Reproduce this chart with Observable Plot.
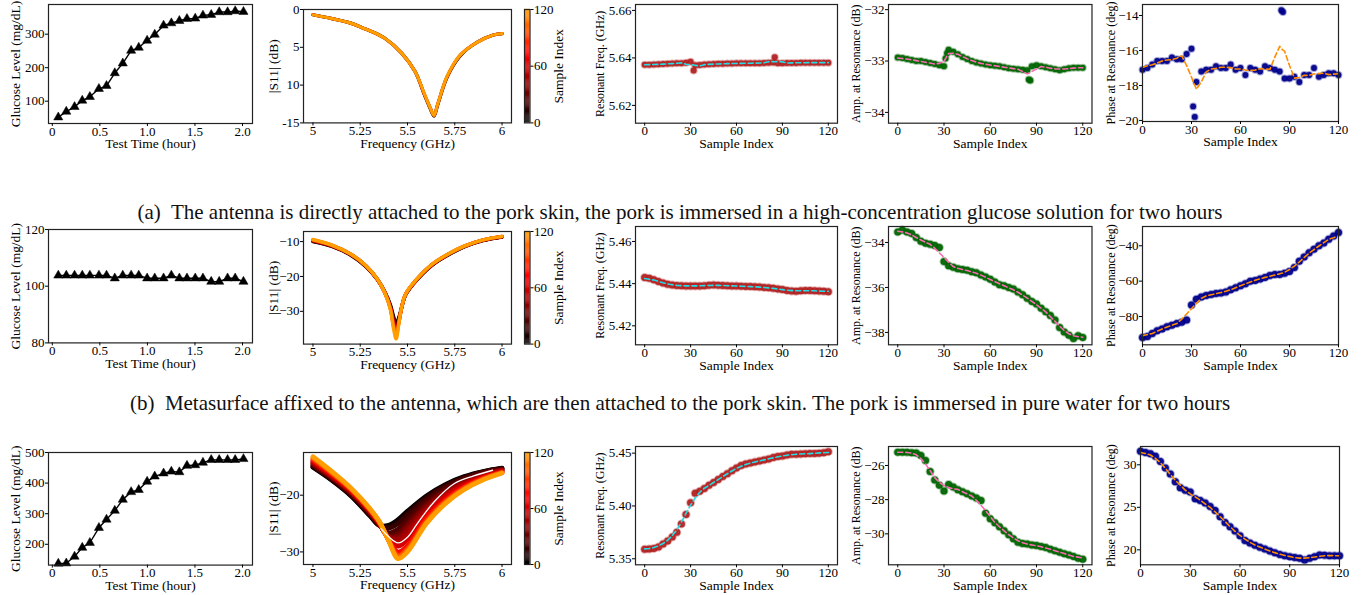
<!DOCTYPE html>
<html><head><meta charset="utf-8">
<script src="https://cdn.jsdelivr.net/npm/d3@7"></script>
<script src="https://cdn.jsdelivr.net/npm/@observablehq/plot@0.6"></script>
<style>
body{margin:0;background:#fff;}
#fig{position:relative;width:1364px;height:595px;overflow:hidden;font-family:"Liberation Serif","Times New Roman",serif;background:#fff;}
.cap{position:absolute;left:0;width:1360px;text-align:center;font-size:21px;line-height:24px;color:#111;white-space:pre;}
</style></head><body><div id="fig"></div>
<script>
// ---------------- data ----------------
const testTime = [0.063,0.147,0.234,0.315,0.395,0.49,0.57,0.657,0.741,0.829,0.909,0.997,1.077,1.17,1.252,1.336,1.416,1.503,1.584,1.671,1.755,1.843,1.923,2.01];
const glucoseA = [52,69,83,102,113,137,146,184,213,251,260,281,299,326,333,340,346,347,356,358,366,366,369,367];
const glucoseB = [103.8,103.8,103.8,103.8,103.8,103.8,103.8,102.8,103.8,103.8,103.8,102.8,102.8,102.8,103.8,102.8,102.8,102.8,102.8,101.6,101.6,102.8,102.8,101.6];
const glucoseC = [137,138,160,189,205,254,281,310,346,371,378,405,422,432,438,436,457,459,467,476,476,476,476,479];

const sampleIdx = [0,3,6,9,12,15,18,21,24,27,30,33,36,39,42,45,48,51,54,57,60,63,66,69,72,75,78,81,84,87,90,93,96,99,102,105,108,111,114,117,120];

// (a) direct attachment, glucose solution
const freqA = [5.6371,5.6371,5.6372,5.6373,5.6374,5.6375,5.6376,5.6377,5.6378,5.6380,5.6384,5.6369,5.6370,5.6372,5.6373,5.6374,5.6375,5.6375,5.6376,5.6376,5.6377,5.6377,5.6377,5.6378,5.6378,5.6378,5.6379,5.6380,5.6381,5.6378,5.6378,5.6379,5.6379,5.6379,5.6380,5.6380,5.6380,5.6380,5.6380,5.6380,5.6380];
const freqAOutIdx = [32,85];
const freqAOut = [5.6347,5.6403];
const ampA = [-32.93,-32.94,-32.96,-32.98,-33.0,-33.0,-33.02,-33.04,-33.06,-33.08,-33.1,-32.78,-32.82,-32.87,-32.92,-32.96,-33.0,-33.03,-33.05,-33.07,-33.08,-33.09,-33.1,-33.12,-33.14,-33.15,-33.16,-33.17,-33.18,-33.1,-33.08,-33.1,-33.12,-33.14,-33.16,-33.18,-33.16,-33.14,-33.13,-33.13,-33.13];
const ampAOutIdx = [31,32,85,86];
const ampAOut = [-32.95,-32.85,-33.36,-33.38];
const phaseA = [-17.1,-17.0,-16.8,-16.6,-16.6,-16.6,-16.4,-16.5,-16.5,-16.2,-15.9,-17.8,-17.2,-17.1,-17.1,-16.9,-17.0,-17.0,-16.8,-17.1,-17.0,-17.4,-17.0,-17.1,-17.2,-16.9,-17.0,-17.1,-17.2,-17.6,-17.6,-17.5,-17.8,-17.4,-17.4,-17.0,-17.5,-17.4,-17.3,-17.3,-17.4];
const phaseAOutIdx = [31,32,85,86];
const phaseAOut = [-19.2,-19.8,-13.7,-13.8];

// (b) metasurface, pure water
const freqB = [5.4429,5.4425,5.4418,5.4410,5.4403,5.4397,5.4393,5.4391,5.4390,5.4389,5.4389,5.4389,5.4389,5.4390,5.4392,5.4394,5.4392,5.4391,5.4390,5.4389,5.4389,5.4388,5.4387,5.4386,5.4385,5.4384,5.4382,5.4380,5.4378,5.4375,5.4372,5.4368,5.4365,5.4364,5.4366,5.4368,5.4367,5.4366,5.4365,5.4364,5.4362];
const ampB = [-33.53,-33.45,-33.53,-33.6,-33.78,-33.95,-34.03,-34.08,-34.13,-34.22,-34.85,-35.04,-35.1,-35.17,-35.2,-35.23,-35.3,-35.35,-35.45,-35.53,-35.63,-35.76,-35.88,-35.93,-36.0,-36.07,-36.2,-36.33,-36.48,-36.62,-36.74,-36.92,-37.08,-37.25,-37.45,-37.78,-37.98,-38.12,-38.27,-38.15,-38.22];
const phaseB = [-91.9,-91.3,-89.6,-88.0,-87.0,-85.8,-84.9,-84.0,-83.2,-82.0,-73.5,-70.2,-69.0,-68.1,-67.6,-67.0,-66.7,-66.2,-64.8,-63.8,-62.6,-61.5,-60.0,-59.6,-58.8,-57.9,-56.8,-56.3,-56.2,-55.6,-54.5,-52.3,-48.7,-46.3,-44.0,-41.9,-40.0,-38.5,-36.3,-34.5,-32.5];

// (c) metasurface, glucose solution
const freqC = [5.3590,5.3592,5.3598,5.3612,5.3640,5.3669,5.3705,5.3750,5.3830,5.3920,5.4030,5.4120,5.4140,5.4165,5.4195,5.4221,5.4250,5.4278,5.4305,5.4333,5.4360,5.4382,5.4397,5.4407,5.4417,5.4426,5.4436,5.4445,5.4458,5.4468,5.4473,5.4482,5.4489,5.4490,5.4492,5.4495,5.4496,5.4497,5.4500,5.4505,5.4514];
const ampC = [-25.22,-25.22,-25.23,-25.25,-25.27,-25.41,-25.71,-26.35,-26.85,-27.15,-27.5,-27.11,-27.26,-27.42,-27.54,-27.66,-27.78,-27.9,-28.05,-28.8,-29.12,-29.35,-29.59,-29.82,-30.05,-30.29,-30.49,-30.57,-30.6,-30.65,-30.68,-30.74,-30.8,-30.9,-30.99,-31.07,-31.16,-31.23,-31.32,-31.42,-31.48];
const phaseC = [31.59,31.45,31.3,31.0,30.4,29.63,28.92,28.0,27.3,27.0,26.8,26.0,25.8,25.5,25.1,24.61,23.9,23.2,22.7,22.2,21.67,21.1,20.8,20.55,20.3,20.1,19.85,19.65,19.45,19.3,19.2,19.1,19.0,18.8,19.0,19.2,19.4,19.35,19.3,19.3,19.31];

// |S11| spectra (dB), a few sample indices per experiment
const s11FreqA = [5.0,5.1,5.2,5.26,5.3,5.38,5.47,5.54,5.59,5.62,5.64,5.66,5.71,5.78,5.87,5.95,6.0];
const s11SamplesA = [0,60,120];
const s11CurvesA = [
  [-0.7,-1.2,-1.8,-2.4,-2.8,-3.8,-5.8,-8.2,-11.3,-13.1,-14.1,-12.6,-8.9,-6.1,-4.3,-3.4,-3.2],
  [-0.7,-1.2,-1.8,-2.4,-2.8,-3.8,-5.8,-8.2,-11.3,-13.0,-14.0,-12.5,-8.9,-6.0,-4.3,-3.4,-3.2],
  [-0.7,-1.2,-1.8,-2.4,-2.8,-3.8,-5.8,-8.2,-11.2,-13.0,-14.0,-12.5,-8.8,-6.0,-4.3,-3.4,-3.2]
];
const s11FreqB = [5.0,5.1,5.2,5.28,5.34,5.38,5.41,5.425,5.44,5.455,5.47,5.49,5.55,5.63,5.72,5.8,5.9,6.0];
const s11SamplesB = [0,20,40,60,80,100,120];
const s11CurvesB = [
  [-10.0,-11.4,-13.9,-17.2,-20.9,-24.4,-28.2,-31.2,-33.4,-31.6,-28.6,-25.3,-21.0,-16.8,-13.7,-11.5,-9.7,-8.7],
  [-9.9,-11.3,-13.8,-17.1,-20.8,-24.5,-28.5,-31.8,-34.0,-32.0,-28.7,-25.2,-20.9,-16.7,-13.6,-11.4,-9.6,-8.6],
  [-9.8,-11.2,-13.7,-17.0,-20.8,-24.5,-28.8,-32.6,-35.0,-32.5,-28.7,-25.2,-20.8,-16.6,-13.5,-11.4,-9.6,-8.6],
  [-9.7,-11.2,-13.7,-17.0,-20.7,-24.6,-29.0,-33.0,-35.4,-32.7,-28.7,-25.1,-20.8,-16.6,-13.5,-11.4,-9.6,-8.6],
  [-9.6,-11.1,-13.6,-16.9,-20.7,-24.6,-29.2,-33.5,-36.1,-32.9,-28.7,-25.1,-20.8,-16.6,-13.5,-11.3,-9.5,-8.5],
  [-9.5,-11.0,-13.6,-16.9,-20.7,-24.6,-29.4,-34.0,-37.0,-33.1,-28.6,-25.0,-20.7,-16.5,-13.4,-11.3,-9.5,-8.5],
  [-9.4,-11.0,-13.6,-16.9,-20.7,-24.7,-29.6,-34.6,-37.9,-33.3,-28.6,-25.0,-20.7,-16.5,-13.4,-11.3,-9.5,-8.5]
];
const s11FreqC = [5.0,5.1,5.2,5.3,5.35,5.4,5.45,5.5,5.6,5.7,5.8,5.9,6.0];
const s11SamplesC = [0,7,15,22,30,37,45,52,60,75,90,105,120];
const s11CurvesC = [
  [-15.1,-17.4,-20.1,-23.6,-25.3,-25.3,-24.3,-22.8,-20.1,-18.1,-16.7,-15.8,-15.2],
  [-15.0,-17.3,-20.0,-23.5,-25.3,-25.5,-24.6,-23.0,-20.3,-18.25,-16.8,-15.85,-15.25],
  [-14.9,-17.2,-19.9,-23.4,-25.3,-25.8,-25.0,-23.4,-20.5,-18.4,-16.9,-15.9,-15.3],
  [-14.75,-17.05,-19.75,-23.25,-25.2,-26.6,-26.0,-24.2,-21.0,-18.7,-17.1,-16.0,-15.4],
  [-14.6,-16.9,-19.6,-23.1,-25.1,-27.2,-26.8,-25.0,-21.6,-19.1,-17.4,-16.2,-15.5],
  [-14.45,-16.8,-19.5,-23.0,-25.05,-27.3,-27.3,-25.6,-22.0,-19.4,-17.6,-16.35,-15.55],
  [-14.3,-16.7,-19.4,-22.9,-25.0,-27.4,-27.7,-26.2,-22.4,-19.7,-17.8,-16.5,-15.6],
  [-14.15,-16.6,-19.3,-22.8,-24.95,-27.55,-28.4,-27.0,-22.85,-20.0,-18.0,-16.65,-15.7],
  [-14.0,-16.5,-19.2,-22.7,-24.9,-27.7,-29.0,-27.8,-23.3,-20.3,-18.2,-16.8,-15.8],
  [-13.8,-16.3,-19.0,-22.6,-24.8,-27.8,-30.0,-28.9,-24.0,-20.8,-18.5,-17.0,-15.9],
  [-13.6,-16.1,-18.9,-22.5,-24.7,-27.9,-30.6,-29.4,-24.5,-21.1,-18.7,-17.1,-16.0],
  [-13.4,-16.0,-18.8,-22.4,-24.6,-28.0,-30.9,-29.7,-24.8,-21.3,-18.9,-17.2,-16.05],
  [-13.2,-15.8,-18.7,-22.3,-24.6,-28.0,-31.2,-30.0,-25.0,-21.5,-19.0,-17.3,-16.1]
];
const s11WhiteFreqC = [5.36,5.40,5.45,5.50,5.55,5.64,5.75,5.85,5.95];
const s11WhiteC = [-25.9,-27.3,-28.4,-27.4,-25.1,-21.2,-17.9,-16.6,-15.6];

const captionA = "(a)  The antenna is directly attached to the pork skin, the pork is immersed in a high-concentration glucose solution for two hours";
const captionB = "(b)  Metasurface affixed to the antenna, which are then attached to the pork skin. The pork is immersed in pure water for two hours";

// ---------------- drawing ----------------
const fig = document.getElementById("fig");
const FONT = "Liberation Serif, Times New Roman, serif";
const cmap = d3.scaleLinear().domain([0, 73, 120]).range(["#000000", "#ff0000", "#ff9e00"]);
const minus = d => (d < 0 ? "\u2212" : "") + Math.abs(d);
const fix = n => d => (d < 0 ? "\u2212" : "") + Math.abs(d).toFixed(n);

function panel(o) {
  const mL = 80, mR = 40, mT = 8, mB = 34;
  const w = o.fx1 - o.fx0, h = o.fy1 - o.fy0;
  const chart = Plot.plot({
    width: w + mL + mR, height: h + mT + mB,
    marginLeft: mL, marginRight: mR, marginTop: mT, marginBottom: mB,
    style: {fontFamily: FONT, fontSize: "13px", background: "transparent", color: "#000", overflow: "visible"},
    x: {domain: o.x},
    y: {domain: o.y},
    marks: [
      ...o.marks,
      Plot.frame({stroke: "#222", strokeWidth: 1.2}),
      Plot.axisX({ticks: o.xticks, tickFormat: o.xfmt, tickSize: 3, tickPadding: 0, label: null, fontSize: 13}),
      Plot.axisY({ticks: o.yticks, tickFormat: o.yfmt, tickSize: 3, tickPadding: 1, label: null, fontSize: 13}),
      Plot.text([o.xlabel], {text: d => d, frameAnchor: "bottom", dy: 20.5, fontSize: 13.5, lineAnchor: "middle", textAnchor: "middle"}),
      Plot.text([o.ylabel], {text: d => d, frameAnchor: "left", dx: -o.yoff, rotate: -90, fontSize: o.ysize || 13.5, lineAnchor: "middle", textAnchor: "middle"})
    ]
  });
  chart.style.position = "absolute";
  chart.style.left = (o.fx0 - mL) + "px";
  chart.style.top = (o.fy0 - mT) + "px";
  fig.appendChild(chart);
}

function colorbar(fx0, fy0, fx1, fy1) {
  const mL = 5, mR = 50, mT = 8, mB = 8;
  const cells = d3.range(0, 120, 1);
  const chart = Plot.plot({
    width: fx1 - fx0 + mL + mR, height: fy1 - fy0 + mT + mB,
    marginLeft: mL, marginRight: mR, marginTop: mT, marginBottom: mB,
    style: {fontFamily: FONT, fontSize: "13px", background: "transparent", color: "#000", overflow: "visible"},
    x: {domain: [0, 1], axis: null},
    y: {domain: [0, 120]},
    marks: [
      Plot.rect(cells, {x1: 0, x2: 1, y1: d => d, y2: d => d + 1.2, fill: d => cmap(d + 0.5)}),
      Plot.frame({stroke: "#222", strokeWidth: 1.2}),
      Plot.axisY({anchor: "right", ticks: [0, 60, 120], tickSize: 3, tickPadding: 1, label: null, fontSize: 13}),
      Plot.text(["Sample Index"], {text: d => d, frameAnchor: "right", dx: 29, rotate: -90, fontSize: 13.5, lineAnchor: "middle", textAnchor: "middle"})
    ]
  });
  chart.style.position = "absolute";
  chart.style.left = (fx0 - mL) + "px";
  chart.style.top = (fy0 - mT) + "px";
  fig.appendChild(chart);
}

function glucosePanel(vals, fy0, fy1, ydom, yticks) {
  const data = testTime.map((t, i) => ({t, g: vals[i]}));
  panel({fx0: 48, fx1: 252, fy0, fy1, x: [-0.04, 2.105], y: ydom,
    xticks: [0, 0.5, 1, 1.5, 2], xfmt: d => d === 0 ? "0" : d.toFixed(1), yticks, yfmt: minus,
    xlabel: "Test Time (hour)", ylabel: "Glucose Level (mg/dL)", yoff: 33,
    marks: [
      Plot.line(data, {x: "t", y: "g", stroke: "#000", strokeWidth: 1.4}),
      Plot.dot(data, {x: "t", y: "g", symbol: "triangle", r: 3.4, fill: "#000", stroke: "#000", strokeWidth: 0.5})
    ]});
}

function s11Panel(F, samples, curves, fy0, fy1, ydom, yticks, yfmt, sw, extra) {
  const data = samples.flatMap((s, i) => F.map((f, j) => ({f, v: curves[i][j], s, c: cmap(s)})));
  panel({fx0: 303, fx1: 511, fy0, fy1, x: [4.95, 6.05], y: ydom,
    xticks: [5, 5.25, 5.5, 5.75, 6], xfmt: d => String(d), yticks, yfmt,
    xlabel: "Frequency (GHz)", ylabel: "|S11| (dB)", yoff: 30,
    marks: [
      Plot.line(data, {x: "f", y: "v", z: "s", stroke: d => d.c, strokeWidth: sw, curve: "catmull-rom"}),
      ...(extra || [])
    ]});
  colorbar(524, fy0, 529.5, fy1);
}

function seriesPanel(o) {
  const data = o.idx.map((s, i) => ({s, v: o.vals[i]}));
  (o.outIdx || []).forEach((s, i) => data.push({s, v: o.outVals[i]}));
  data.sort((a, b) => a.s - b.s);
  panel({fx0: o.fx0, fx1: o.fx1, fy0: o.fy0, fy1: o.fy1, x: o.x, y: o.y,
    xticks: [0, 30, 60, 90, 120], xfmt: d => String(d), yticks: o.yticks, yfmt: o.yfmt,
    xlabel: "Sample Index", ylabel: o.ylabel, yoff: o.yoff, ysize: 12,
    marks: [
      Plot.dot(data, {x: "s", y: "v", r: o.r, fill: o.color, fillOpacity: 0.95, stroke: o.color, strokeOpacity: 0.35, strokeWidth: 2}),
      Plot.line(data, Plot.windowY({k: 5, anchor: "middle"}, {x: "s", y: "v", stroke: o.dash, strokeWidth: 1.6, strokeDasharray: "5,3"}))
    ]});
}

const RED = "#b22222", GREEN = "#006400", BLUE = "#00008b";
const CYAN = "#22dde6", PINK = "#ff69b4", ORANGE = "#ff8c00";
const C3 = [634.5, 836.5], C4 = [887.5, 1091], C5 = [1142, 1338];

// Row (a)
glucosePanel(glucoseA, 4, 123, [33.4, 388.6], [100, 200, 300]);
s11Panel(s11FreqA, s11SamplesA, s11CurvesA, 9.3, 122.7, [-15, 0], [0, -5, -10, -15],
  d => d === -15 ? "-15" : String(-d), 3.2);
seriesPanel({fx0: C3[0], fx1: C3[1], fy0: 4, fy1: 122.7, x: [-6, 126], y: [5.6125, 5.6625],
  idx: sampleIdx, vals: freqA, outIdx: freqAOutIdx, outVals: freqAOut, yticks: [5.62, 5.64, 5.66], yfmt: fix(2),
  ylabel: "Resonant Freq. (GHz)", yoff: 35.5, color: RED, dash: CYAN, r: 3});
seriesPanel({fx0: C4[0], fx1: C4[1], fy0: 4, fy1: 122.7, x: [-6, 126], y: [-34.21, -31.9],
  idx: sampleIdx, vals: ampA, outIdx: ampAOutIdx, outVals: ampAOut, yticks: [-34, -33, -32], yfmt: minus,
  ylabel: "Amp. at Resonance (dB)", yoff: 32.5, color: GREEN, dash: PINK, r: 3});
seriesPanel({fx0: C5[0], fx1: C5[1], fy0: 4, fy1: 121, x: [0, 120], y: [-20.06, -13.37],
  idx: sampleIdx, vals: phaseA, outIdx: phaseAOutIdx, outVals: phaseAOut, yticks: [-20, -18, -16, -14], yfmt: minus,
  ylabel: "Phase at Resonance (deg)", yoff: 31, color: BLUE, dash: ORANGE, r: 2.9});

// Row (b)
glucosePanel(glucoseB, 229.3, 342.7, [80, 120], [80, 100, 120]);
s11Panel(s11FreqB, s11SamplesB, s11CurvesB, 230.7, 343.3, [-39.4, -7.1], [-10, -20, -30], minus, 3.4);
seriesPanel({fx0: C3[0], fx1: C3[1], fy0: 225.7, fy1: 344, x: [-6, 126], y: [5.411, 5.4671],
  idx: sampleIdx, vals: freqB, yticks: [5.42, 5.44, 5.46], yfmt: fix(2),
  ylabel: "Resonant Freq. (GHz)", yoff: 35.5, color: RED, dash: CYAN, r: 3.5});
seriesPanel({fx0: C4[0], fx1: C4[1], fy0: 225.7, fy1: 344, x: [-6, 126], y: [-38.55, -33.29],
  idx: sampleIdx, vals: ampB, yticks: [-38, -36, -34], yfmt: minus,
  ylabel: "Amp. at Resonance (dB)", yoff: 32.5, color: GREEN, dash: PINK, r: 3.5});
seriesPanel({fx0: C5[0], fx1: C5[1], fy0: 225.7, fy1: 344, x: [0, 120], y: [-96, -29.1],
  idx: sampleIdx, vals: phaseB, yticks: [-80, -60, -40], yfmt: minus,
  ylabel: "Phase at Resonance (deg)", yoff: 31, color: BLUE, dash: ORANGE, r: 3.5});

// Row (c)
glucosePanel(glucoseC, 451.7, 564.3, [132, 500], [200, 300, 400, 500]);
const whiteData = s11WhiteFreqC.map((f, i) => ({f, v: s11WhiteC[i]}));
s11Panel(s11FreqC, s11SamplesC, s11CurvesC, 452.3, 564.3, [-32.22, -12.47], [-20, -30], minus, 4.6,
  [Plot.line(whiteData, {x: "f", y: "v", stroke: "#fff", strokeWidth: 1.3, curve: "catmull-rom"})]);
seriesPanel({fx0: C3[0], fx1: C3[1], fy0: 446, fy1: 564.3, x: [-6, 126], y: [5.3443, 5.4563],
  idx: sampleIdx, vals: freqC, yticks: [5.35, 5.40, 5.45], yfmt: fix(2),
  ylabel: "Resonant Freq. (GHz)", yoff: 35.5, color: RED, dash: CYAN, r: 3.5});
seriesPanel({fx0: C4[0], fx1: C4[1], fy0: 446, fy1: 564.3, x: [-6, 126], y: [-31.81, -24.89],
  idx: sampleIdx, vals: ampC, yticks: [-30, -28, -26], yfmt: minus,
  ylabel: "Amp. at Resonance (dB)", yoff: 32.5, color: GREEN, dash: PINK, r: 3.5});
seriesPanel({fx0: 1140, fx1: 1339, fy0: 446, fy1: 564.3, x: [0, 120], y: [18.24, 32.15],
  idx: sampleIdx, vals: phaseC, yticks: [20, 25, 30], yfmt: minus,
  ylabel: "Phase at Resonance (deg)", yoff: 29, color: BLUE, dash: ORANGE, r: 3.5});

// captions
function caption(text, top) {
  const d = document.createElement("div");
  d.className = "cap";
  d.style.top = top + "px";
  d.textContent = text;
  fig.appendChild(d);
}
caption(captionA, 200);
caption(captionB, 391);
</script>
</body></html>
